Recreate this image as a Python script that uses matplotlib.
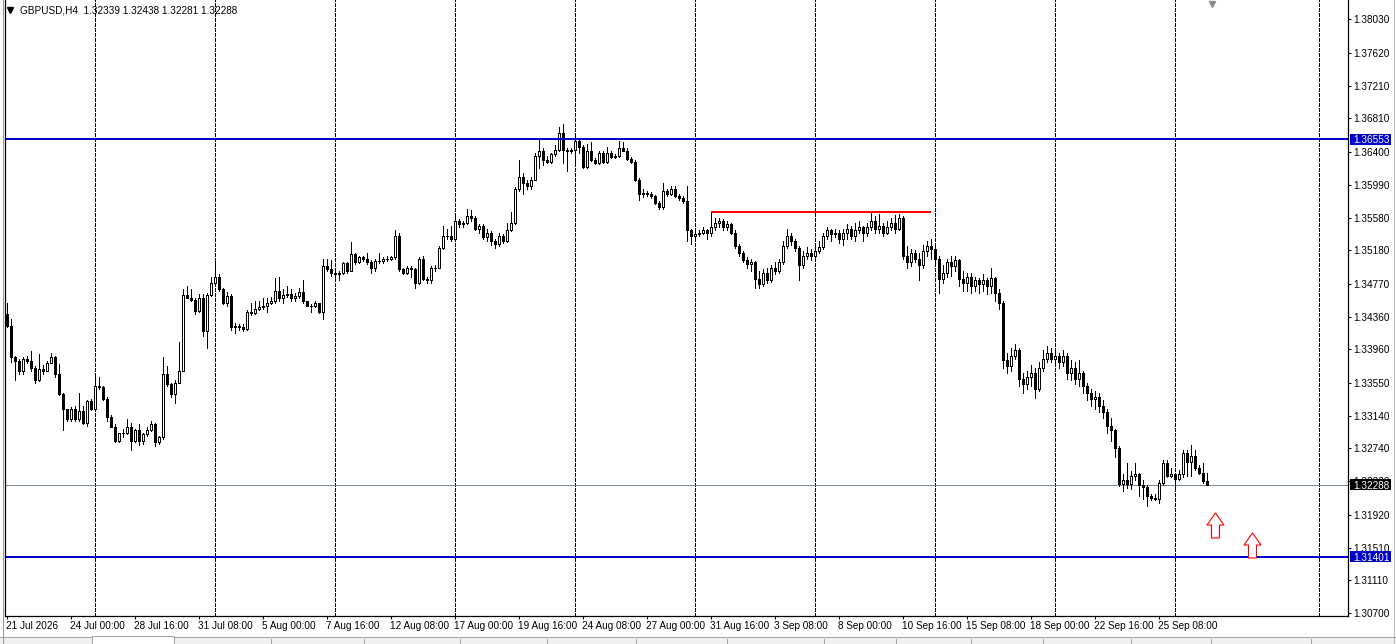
import numpy as np
import matplotlib
matplotlib.use("Agg")
import matplotlib.pyplot as plt
import matplotlib.transforms as mtransforms
from matplotlib.path import Path
from matplotlib.patches import Rectangle
from matplotlib.lines import Line2D

plt.rcParams['font.family'] = ['Liberation Sans', 'DejaVu Sans']

# --- data (GBPUSD H4) ---
header = "GBPUSD,H4  1.32339 1.32438 1.32281 1.32288"
first_open = 1.34390

close = [
    1.34253, 1.33859, 1.33810, 1.33698, 1.33834, 1.33810, 1.33723, 1.33575, 1.33711, 1.33686,
    1.33785, 1.33859, 1.33661, 1.33414, 1.33217, 1.33094, 1.33229, 1.33094, 1.33193, 1.33056,
    1.33316, 1.33217, 1.33501, 1.33489, 1.33352, 1.33119, 1.33007, 1.32834, 1.32921, 1.32921,
    1.33007, 1.32834, 1.32958, 1.32834, 1.32909, 1.32958, 1.33032, 1.32822, 1.32872, 1.33661,
    1.33526, 1.33414, 1.33550, 1.33698, 1.34636, 1.34599, 1.34574, 1.34427, 1.34587, 1.34180,
    1.34636, 1.34784, 1.34858, 1.34710, 1.34525, 1.34623, 1.34229, 1.34253, 1.34229, 1.34216,
    1.34414, 1.34402, 1.34451, 1.34476, 1.34500, 1.34537, 1.34550, 1.34685, 1.34587, 1.34636,
    1.34648, 1.34587, 1.34623, 1.34673, 1.34550, 1.34500, 1.34488, 1.34525, 1.34414, 1.34982,
    1.34945, 1.34907, 1.34895, 1.34907, 1.35019, 1.34932, 1.35130, 1.35031, 1.35093, 1.35068,
    1.35031, 1.34957, 1.35044, 1.35044, 1.35068, 1.35080, 1.35093, 1.35364, 1.34945, 1.34907,
    1.34957, 1.34945, 1.34772, 1.35068, 1.34833, 1.34809, 1.34957, 1.34969, 1.35216, 1.35364,
    1.35352, 1.35327, 1.35537, 1.35500, 1.35524, 1.35599, 1.35574, 1.35450, 1.35487, 1.35340,
    1.35389, 1.35302, 1.35265, 1.35352, 1.35302, 1.35426, 1.35524, 1.35932, 1.36080, 1.36006,
    1.35969, 1.36055, 1.36339, 1.36413, 1.36290, 1.36265, 1.36364, 1.36425, 1.36635, 1.36425,
    1.36401, 1.36425, 1.36536, 1.36462, 1.36204, 1.36413, 1.36290, 1.36253, 1.36376, 1.36265,
    1.36388, 1.36327, 1.36339, 1.36438, 1.36413, 1.36302, 1.36265, 1.36043, 1.35882, 1.35894,
    1.35882, 1.35857, 1.35771, 1.35710, 1.35919, 1.35882, 1.35944, 1.35857, 1.35833, 1.35796,
    1.35426, 1.35352, 1.35377, 1.35401, 1.35426, 1.35389, 1.35475, 1.35524, 1.35549, 1.35463,
    1.35500, 1.35401, 1.35240, 1.35154, 1.35056, 1.35007, 1.35031, 1.34833, 1.34760, 1.34907,
    1.34809, 1.34957, 1.34932, 1.35031, 1.35240, 1.35352, 1.35302, 1.35216, 1.34994, 1.35117,
    1.35154, 1.35105, 1.35179, 1.35228, 1.35352, 1.35426, 1.35377, 1.35401, 1.35327, 1.35389,
    1.35450, 1.35352, 1.35426, 1.35475, 1.35401, 1.35475, 1.35549, 1.35450, 1.35487, 1.35401,
    1.35475, 1.35524, 1.35450, 1.35574, 1.35117, 1.35031, 1.35154, 1.35080, 1.34994, 1.35179,
    1.35240, 1.35203, 1.35080, 1.34833, 1.34907, 1.35031, 1.34982, 1.35056, 1.34833, 1.34784,
    1.34858, 1.34735, 1.34809, 1.34760, 1.34821, 1.34735, 1.34834, 1.34660, 1.34537, 1.33822,
    1.33748, 1.33883, 1.33945, 1.33599, 1.33526, 1.33624, 1.33673, 1.33476, 1.33723, 1.33846,
    1.33920, 1.33846, 1.33883, 1.33797, 1.33871, 1.33673, 1.33723, 1.33599, 1.33673, 1.33501,
    1.33426, 1.33352, 1.33377, 1.33254, 1.33180, 1.33019, 1.32958, 1.32748, 1.32303, 1.32353,
    1.32303, 1.32402, 1.32415, 1.32291, 1.32266, 1.32155, 1.32131, 1.32118, 1.32316, 1.32551,
    1.32402, 1.32415, 1.32365, 1.32427, 1.32674, 1.32563, 1.32637, 1.32501, 1.32439, 1.32339,
    1.32288,
]

high = [
    1.34537, 1.34328, 1.33883, 1.33846, 1.33859, 1.33871, 1.33933, 1.33748, 1.33896, 1.33760,
    1.33810, 1.33920, 1.33883, 1.33773, 1.33426, 1.33229, 1.33242, 1.33254, 1.33426, 1.33266,
    1.33328, 1.33352, 1.33636, 1.33624, 1.33513, 1.33377, 1.33143, 1.33032, 1.32933, 1.32982,
    1.33094, 1.33056, 1.32982, 1.33044, 1.32933, 1.32995, 1.33069, 1.33056, 1.32896, 1.33859,
    1.33748, 1.33538, 1.33575, 1.34056, 1.34710, 1.34747, 1.34698, 1.34599, 1.34648, 1.34648,
    1.34660, 1.34846, 1.35056, 1.34883, 1.34722, 1.34673, 1.34648, 1.34290, 1.34278, 1.34266,
    1.34439, 1.34525, 1.34550, 1.34562, 1.34587, 1.34587, 1.34611, 1.34834, 1.34846, 1.34710,
    1.34735, 1.34710, 1.34660, 1.34722, 1.34809, 1.34562, 1.34513, 1.34550, 1.34537, 1.35068,
    1.35068, 1.35056, 1.34932, 1.34932, 1.35031, 1.35031, 1.35290, 1.35142, 1.35117, 1.35117,
    1.35142, 1.35056, 1.35068, 1.35142, 1.35093, 1.35105, 1.35117, 1.35438, 1.35389, 1.34969,
    1.34982, 1.34982, 1.34969, 1.35093, 1.35117, 1.34846, 1.34982, 1.34994, 1.35240, 1.35487,
    1.35450, 1.35487, 1.35599, 1.35562, 1.35549, 1.35697, 1.35673, 1.35599, 1.35512, 1.35500,
    1.35450, 1.35414, 1.35327, 1.35401, 1.35377, 1.35524, 1.35648, 1.35957, 1.36290, 1.36141,
    1.36043, 1.36080, 1.36388, 1.36573, 1.36438, 1.36351, 1.36388, 1.36475, 1.36697, 1.36746,
    1.36450, 1.36450, 1.36598, 1.36573, 1.36487, 1.36499, 1.36512, 1.36315, 1.36401, 1.36401,
    1.36462, 1.36413, 1.36364, 1.36536, 1.36512, 1.36438, 1.36327, 1.36290, 1.36068, 1.35944,
    1.35919, 1.35907, 1.35870, 1.35796, 1.36006, 1.35944, 1.35969, 1.35969, 1.35882, 1.35857,
    1.35969, 1.35450, 1.35426, 1.35438, 1.35475, 1.35450, 1.35648, 1.35586, 1.35574, 1.35562,
    1.35549, 1.35524, 1.35426, 1.35265, 1.35179, 1.35093, 1.35080, 1.35044, 1.34932, 1.34945,
    1.34957, 1.34994, 1.35031, 1.35080, 1.35302, 1.35450, 1.35401, 1.35327, 1.35240, 1.35179,
    1.35228, 1.35203, 1.35228, 1.35302, 1.35401, 1.35475, 1.35450, 1.35450, 1.35426, 1.35450,
    1.35500, 1.35487, 1.35524, 1.35549, 1.35487, 1.35524, 1.35648, 1.35599, 1.35624, 1.35524,
    1.35549, 1.35586, 1.35611, 1.35624, 1.35599, 1.35240, 1.35203, 1.35191, 1.35142, 1.35253,
    1.35302, 1.35327, 1.35253, 1.35117, 1.34994, 1.35080, 1.35117, 1.35105, 1.35068, 1.34932,
    1.34907, 1.34907, 1.34858, 1.34834, 1.34883, 1.34834, 1.34957, 1.34858, 1.34710, 1.34562,
    1.33920, 1.33970, 1.34031, 1.33970, 1.33673, 1.33698, 1.33760, 1.33723, 1.33797, 1.33945,
    1.34006, 1.33970, 1.33970, 1.33920, 1.33957, 1.33920, 1.33822, 1.33797, 1.33822, 1.33698,
    1.33550, 1.33476, 1.33451, 1.33426, 1.33328, 1.33229, 1.33106, 1.32982, 1.32772, 1.32427,
    1.32551, 1.32464, 1.32551, 1.32439, 1.32341, 1.32291, 1.32180, 1.32180, 1.32341, 1.32588,
    1.32588, 1.32489, 1.32439, 1.32476, 1.32711, 1.32711, 1.32785, 1.32711, 1.32526, 1.32551,
    1.32438,
]

low = [
    1.34229, 1.33797, 1.33587, 1.33661, 1.33649, 1.33785, 1.33698, 1.33550, 1.33563, 1.33649,
    1.33686, 1.33785, 1.33612, 1.33402, 1.32970, 1.33081, 1.33081, 1.33081, 1.33069, 1.33044,
    1.33019, 1.33205, 1.33205, 1.33476, 1.33328, 1.33081, 1.32995, 1.32822, 1.32822, 1.32872,
    1.32909, 1.32723, 1.32822, 1.32785, 1.32797, 1.32896, 1.32946, 1.32772, 1.32797, 1.32859,
    1.33501, 1.33377, 1.33303, 1.33538, 1.33686, 1.34587, 1.34550, 1.34390, 1.34414, 1.34118,
    1.33982, 1.34623, 1.34772, 1.34685, 1.34513, 1.34500, 1.34192, 1.34167, 1.34204, 1.34180,
    1.34192, 1.34377, 1.34390, 1.34439, 1.34451, 1.34414, 1.34513, 1.34537, 1.34562, 1.34537,
    1.34611, 1.34562, 1.34562, 1.34599, 1.34537, 1.34488, 1.34414, 1.34476, 1.34402, 1.34328,
    1.34932, 1.34870, 1.34833, 1.34821, 1.34883, 1.34907, 1.34920, 1.35007, 1.35019, 1.35044,
    1.35007, 1.34907, 1.34932, 1.35019, 1.35019, 1.35044, 1.35056, 1.35080, 1.34920, 1.34883,
    1.34895, 1.34846, 1.34722, 1.34760, 1.34821, 1.34784, 1.34772, 1.34932, 1.34957, 1.35203,
    1.35327, 1.35302, 1.35302, 1.35475, 1.35475, 1.35512, 1.35549, 1.35426, 1.35389, 1.35315,
    1.35302, 1.35253, 1.35216, 1.35240, 1.35277, 1.35290, 1.35414, 1.35500, 1.35919, 1.35882,
    1.35944, 1.35944, 1.36043, 1.36191, 1.36228, 1.36253, 1.36253, 1.36351, 1.36413, 1.36253,
    1.36166, 1.36388, 1.36241, 1.36388, 1.36191, 1.36191, 1.36278, 1.36241, 1.36241, 1.36253,
    1.36253, 1.36315, 1.36315, 1.36327, 1.36401, 1.36290, 1.36253, 1.36031, 1.35808, 1.35845,
    1.35857, 1.35833, 1.35747, 1.35685, 1.35697, 1.35857, 1.35870, 1.35845, 1.35808, 1.35771,
    1.35302, 1.35265, 1.35302, 1.35352, 1.35377, 1.35327, 1.35364, 1.35438, 1.35475, 1.35426,
    1.35438, 1.35377, 1.35216, 1.35105, 1.35031, 1.34957, 1.34932, 1.34722, 1.34722, 1.34735,
    1.34784, 1.34796, 1.34883, 1.34907, 1.35007, 1.35216, 1.35253, 1.35179, 1.34809, 1.34957,
    1.35080, 1.35056, 1.35080, 1.35154, 1.35203, 1.35327, 1.35302, 1.35340, 1.35277, 1.35253,
    1.35327, 1.35327, 1.35302, 1.35401, 1.35302, 1.35352, 1.35426, 1.35401, 1.35389, 1.35352,
    1.35377, 1.35426, 1.35401, 1.35426, 1.35080, 1.34957, 1.34982, 1.35031, 1.34809, 1.34957,
    1.35117, 1.35080, 1.35031, 1.34660, 1.34784, 1.34858, 1.34870, 1.34932, 1.34747, 1.34685,
    1.34685, 1.34660, 1.34685, 1.34660, 1.34685, 1.34648, 1.34660, 1.34562, 1.34463, 1.33723,
    1.33673, 1.33698, 1.33846, 1.33513, 1.33426, 1.33476, 1.33513, 1.33365, 1.33451, 1.33698,
    1.33797, 1.33797, 1.33748, 1.33723, 1.33748, 1.33599, 1.33575, 1.33526, 1.33501, 1.33426,
    1.33328, 1.33266, 1.33229, 1.33180, 1.33106, 1.32933, 1.32834, 1.32625, 1.32279, 1.32217,
    1.32254, 1.32230, 1.32341, 1.32155, 1.32118, 1.32032, 1.32094, 1.32094, 1.32069, 1.32291,
    1.32390, 1.32378, 1.32217, 1.32341, 1.32390, 1.32402, 1.32402, 1.32476, 1.32427, 1.32316,
    1.32281,
]

date_labels = ["21 Jul 2026", "24 Jul 00:00", "28 Jul 16:00", "31 Jul 08:00", "5 Aug 00:00",
               "7 Aug 16:00", "12 Aug 08:00", "17 Aug 00:00", "19 Aug 16:00", "24 Aug 08:00",
               "27 Aug 00:00", "31 Aug 16:00", "3 Sep 08:00", "8 Sep 00:00", "10 Sep 16:00",
               "15 Sep 08:00", "18 Sep 00:00", "22 Sep 16:00", "25 Sep 08:00"]
price_ticks = [1.38030, 1.37620, 1.37210, 1.36810, 1.36400, 1.35990, 1.35580, 1.35180,
               1.34770, 1.34360, 1.33960, 1.33550, 1.33140, 1.32740, 1.32330, 1.31920,
               1.31510, 1.31110, 1.30700]
grid_bars = [22, 52, 82, 112, 142, 172, 202, 232, 262, 292, 328]

blue_levels = [1.36553, 1.31401]
bid = 1.32288
resist = (176, 231, 1.35648)          # start bar, end bar, price
arrows = [(302.2, 1.31792), (311.4, 1.31551)]   # bar, price (centre)
shift_bar = 301.4

# --- figure ---
W, H = 1396, 644
fig = plt.figure(figsize=(W / 100, H / 100), dpi=100)
fig.patch.set_facecolor('white')
ax = fig.add_axes([5 / W, 28 / H, 1343 / W, 616 / H])
ax.set_xlim(-0.375, 335.375)
ax.set_ylim(1.306687, 1.382702)

close = np.array(close)
high = np.array(high)
low = np.array(low)
opens = np.concatenate([[first_open], close[:-1]])
idx = np.arange(len(close))
top = np.maximum(opens, close)
bot = np.minimum(opens, close)

LW = 0.72   # one pixel at 100 dpi

ax.vlines(idx, np.minimum(low, bot), np.maximum(high, top), color='black',
          lw=LW, antialiased=False, zorder=3)
up = close >= opens
ax.bar(idx[up], (top - bot)[up], bottom=bot[up], width=0.5, color='white',
       edgecolor='black', linewidth=LW, antialiased=False, zorder=4)
ax.bar(idx[~up], (top - bot)[~up], bottom=bot[~up], width=0.5, color='black',
       edgecolor='black', linewidth=LW, antialiased=False, zorder=4)

for g in grid_bars:
    ax.axvline(g, color='black', lw=LW, dashes=(3, 2), antialiased=False, zorder=1)

for lv in blue_levels:
    ax.axhline(lv, color='#0000C8', lw=1.44, zorder=5)
ax.axhline(bid, color='#778899', lw=LW, antialiased=False, zorder=2)
ax.hlines(resist[2], resist[0], resist[1], color='#FF0000', lw=1.44, zorder=5)

# hollow up arrows
av = [(0, 12.5), (8.5, 0.5), (4, 0.5), (4, -12.5), (-4, -12.5), (-4, 0.5), (-8.5, 0.5), (0, 12.5)]
arrow_path = Path(av, [Path.MOVETO] + [Path.LINETO] * 6 + [Path.CLOSEPOLY])
for bx, py in arrows:
    ax.plot(bx, py, marker=arrow_path, ms=18, mfc='white', mec='#FF0000', mew=0.8,
            ls='none', zorder=6)

# shift marker at top
tr_xa = mtransforms.blended_transform_factory(ax.transData, ax.transAxes)
ax.plot(shift_bar, 1 - 4 / 616, marker='v', ms=5, color='#8c8c8c', transform=tr_xa,
        clip_on=False, zorder=6)

# axes styling
ax.spines['top'].set_visible(False)
for s in ['left', 'right', 'bottom']:
    ax.spines[s].set_linewidth(0.9)
    ax.spines[s].set_color('black')

ax.yaxis.tick_right()
ax.set_yticks(price_ticks)
ax.set_yticklabels([f"{p:.5f}" for p in price_ticks])
ax.tick_params(axis='y', direction='out', length=2.2, width=LW, pad=1.6, labelsize=7.2)
ax.set_xticks(idx[::16][:len(date_labels)])
ax.set_xticklabels(date_labels)
for lbl in ax.get_xticklabels():
    lbl.set_horizontalalignment('left')
ax.tick_params(axis='x', direction='out', length=2.2, width=LW, pad=1.6, labelsize=7.2)

# price boxes on the right scale
tr_ad = mtransforms.blended_transform_factory(ax.transAxes, ax.transData)
bh = 11 * 0.0001234
for price, col in [(blue_levels[0], '#0000C8'), (bid, 'black'), (blue_levels[1], '#0000C8')]:
    ax.add_patch(Rectangle((1 + 2 / 1343, price - bh / 2), 41 / 1343, bh, transform=tr_ad,
                           fc=col, ec='none', clip_on=False, zorder=10))
    ax.text(1 + 5 / 1343, price, f"{price:.5f}", transform=tr_ad, color='white',
            fontsize=7.2, va='center_baseline', ha='left', clip_on=False, zorder=11)

# header
fig.text(20 / W, 1 - 10.5 / H, header, fontsize=7.2, va='center', ha='left')
fig.add_artist(Line2D([10 / W], [1 - 10 / H], marker='v', ms=4.5, color='black',
                      transform=fig.transFigure))

# window frame bits
fig.add_artist(Line2D([2.5 / W, 2.5 / W], [0, 1], color='#9a9a9a', lw=0.8,
                      transform=fig.transFigure))
fig.add_artist(Line2D([1393.5 / W, 1393.5 / W], [0, 1], color='#c0c0c0', lw=0.8,
                      transform=fig.transFigure))
# tab strip
fig.add_artist(Rectangle((0, 0), 1, 7 / H, transform=fig.transFigure, fc='#f0f0f0',
                         ec='none'))
fig.add_artist(Rectangle((92 / W, 0), 82 / W, 8 / H, transform=fig.transFigure, fc='white',
                         ec='#a0a0a0', lw=0.7))
fig.add_artist(Line2D([0, 92 / W], [7 / H, 7 / H], color='#a0a0a0', lw=0.7,
                      transform=fig.transFigure))
fig.add_artist(Line2D([174 / W, 1], [7 / H, 7 / H], color='#a0a0a0', lw=0.7,
                      transform=fig.transFigure))
for sx in [271, 364, 460, 547, 636, 727, 824, 896, 971, 1043, 1131, 1211, 1311]:
    fig.add_artist(Line2D([sx / W, sx / W], [0, 5 / H], color='#a0a0a0', lw=0.7,
                          transform=fig.transFigure))

fig.savefig("out.png", dpi=100)
